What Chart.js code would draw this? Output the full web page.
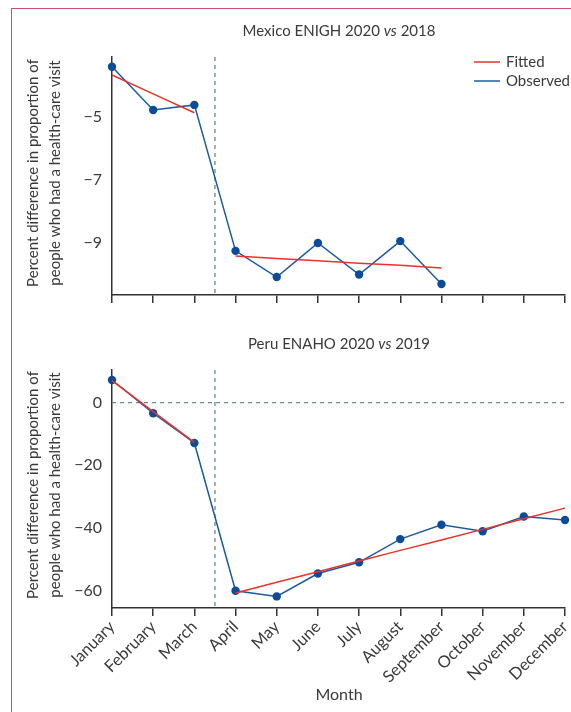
<!DOCTYPE html>
<html>
<head>
<meta charset="utf-8">
<script src="https://cdn.jsdelivr.net/npm/chart.js@4.4.0/dist/chart.umd.min.js"></script>
<style>
body { margin: 0; background: #fff; width: 571px; height: 712px; overflow: hidden; position: relative; }
#frame { position: absolute; left: 11px; top: 8px; width: 580px; height: 720px; border-left: 1.5px solid #d64a72; border-top: 1.5px solid #d64a72; }
canvas { position: absolute; left: 0; }
</style>
</head>
<body>
<div id="frame"></div>
<canvas id="mex" width="571" height="315" style="top:0"></canvas>
<canvas id="peru" width="571" height="397" style="top:315px"></canvas>
<script>
var months = ['January', 'February', 'March', 'April', 'May', 'June', 'July', 'August', 'September', 'October', 'November', 'December'];

// Mexico ENIGH 2020 vs 2018
var mexObserved = [-3.41, -4.78, -4.62, -9.25, -10.08, -9.0, -10.0, -8.94, -10.3, null, null, null];
var mexFittedPre = [-3.67, -4.27, -4.87, null, null, null, null, null, null, null, null, null];
var mexFittedPost = [null, null, null, -9.41, -9.49, -9.56, -9.64, -9.71, -9.79, null, null, null];
var mexTicks = [-9, -7, -5];

// Peru ENAHO 2020 vs 2019
var peruObserved = [7.2, -3.4, -12.9, -60.1, -61.9, -54.6, -51.0, -43.6, -39.0, -41.1, -36.4, -37.5];
var peruFittedPre = [7.0, -2.9, -12.7, null, null, null, null, null, null, null, null, null];
var peruFittedPost = [null, null, null, -60.8, -57.4, -54.0, -50.6, -47.2, -43.9, -40.5, -37.1, -33.7];
var peruTicks = [-60, -40, -20, 0];

var font = 'Lato';
var textCol = '#3a3a3a';
var axisCol = '#333';
var red = '#e8322b';
var blue = '#1c5aa3';
var dot = '#0a4c9a';
var dashCol = '#6b8790';

var decor = {
    id: 'decor',
    beforeDatasetsDraw: function(chart, args, o) {
        var ctx = chart.ctx, a = chart.chartArea;
        var x = chart.scales.x.getPixelForValue(2.5);
        ctx.save();
        ctx.strokeStyle = dashCol;
        ctx.lineWidth = 1.3;
        ctx.setLineDash([4, 4]);
        ctx.beginPath();
        ctx.moveTo(x, a.top);
        ctx.lineTo(x, a.bottom);
        if (o.zeroLine) {
            var y0 = chart.scales.y.getPixelForValue(0);
            ctx.moveTo(a.left, y0);
            ctx.lineTo(a.right, y0);
        }
        ctx.stroke();
        ctx.restore();
    },
    afterDraw: function(chart, args, o) {
        var ctx = chart.ctx;
        ctx.save();
        ctx.fillStyle = textCol;
        ctx.textBaseline = 'middle';

        // title with italic "vs"
        var parts = [[o.title[0], 'normal'], ['vs', 'italic'], [o.title[1], 'normal']];
        var total = 0;
        parts.forEach(function(p) {
            ctx.font = p[1] + ' 15px ' + font;
            total += ctx.measureText(p[0]).width;
        });
        var x = 339 - total / 2;
        ctx.textAlign = 'left';
        parts.forEach(function(p) {
            ctx.font = p[1] + ' 15px ' + font;
            ctx.fillText(p[0], x, o.titleY);
            x += ctx.measureText(p[0]).width;
        });

        // y axis title
        ctx.font = '15px ' + font;
        ctx.textAlign = 'center';
        [['Percent difference in proportion of', 33], ['people who had a health-care visit', 55]].forEach(function(l) {
            ctx.save();
            ctx.translate(l[1], o.yTitleY);
            ctx.rotate(-Math.PI / 2);
            ctx.fillText(l[0], 0, 0);
            ctx.restore();
        });

        if (o.legend) {
            ctx.lineWidth = 1.5;
            [['Fitted', red, 62], ['Observed', blue, 81]].forEach(function(l) {
                ctx.strokeStyle = l[1];
                ctx.beginPath();
                ctx.moveTo(474, l[2]);
                ctx.lineTo(500, l[2]);
                ctx.stroke();
                ctx.textAlign = 'left';
                ctx.fillText(l[0], 506, l[2]);
            });
        }
        if (o.month) {
            ctx.font = '16px ' + font;
            ctx.textAlign = 'center';
            ctx.fillText('Month', 339, o.month);
        }
        ctx.restore();
    }
};

function makeChart(id, obs, fitPre, fitPost, yTicks, yMin, yMax, top, xHeight, showX, decorOpts) {
    return new Chart(document.getElementById(id), {
        type: 'line',
        data: {
            labels: months,
            datasets: [
                { data: fitPre, borderColor: red, borderWidth: 1.5, pointRadius: 0, clip: false },
                { data: fitPost, borderColor: red, borderWidth: 1.5, pointRadius: 0, clip: false },
                { data: obs, borderColor: blue, borderWidth: 1.5, pointRadius: 4.2, pointBackgroundColor: dot, pointBorderWidth: 0, clip: false }
            ]
        },
        options: {
            responsive: false,
            animation: false,
            events: [],
            layout: { padding: { left: 0, right: 6, top: top, bottom: 0 } },
            plugins: { legend: { display: false }, tooltip: { enabled: false }, decor: decorOpts },
            scales: {
                x: {
                    grid: { display: true, drawOnChartArea: false, tickLength: 8, color: axisCol, lineWidth: 1.5 },
                    border: { color: axisCol, width: 1.5 },
                    ticks: { display: showX, autoSkip: false, maxRotation: 45, minRotation: 45, color: textCol, font: { family: font, size: 16.5 }, padding: 1 },
                    afterFit: function(s) { s.height = xHeight; s.paddingLeft = 0; s.paddingRight = 0; }
                },
                y: {
                    min: yMin,
                    max: yMax,
                    grid: { display: false, drawTicks: false },
                    border: { color: axisCol, width: 1.5 },
                    ticks: {
                        padding: 10, color: textCol, font: { family: font, size: 16 },
                        callback: function(v) { return String(v).replace('-', '\u2212'); }
                    },
                    afterBuildTicks: function(s) { s.ticks = yTicks.map(function(v) { return { value: v }; }); },
                    afterFit: function(s) { s.width = 112; }
                }
            }
        },
        plugins: [decor]
    });
}

makeChart('mex', mexObserved, mexFittedPre, mexFittedPost, mexTicks, -10.65, -3.1, 57, 20, false,
    { title: ['Mexico ENIGH 2020 ', ' 2018'], titleY: 31, yTitleY: 173, legend: true });
makeChart('peru', peruObserved, peruFittedPre, peruFittedPost, peruTicks, -65.6, 10.4, 55, 104, true,
    { title: ['Peru ENAHO 2020 ', ' 2019'], titleY: 29, yTitleY: 170, zeroLine: true, month: 380 });
</script>
</body>
</html>
